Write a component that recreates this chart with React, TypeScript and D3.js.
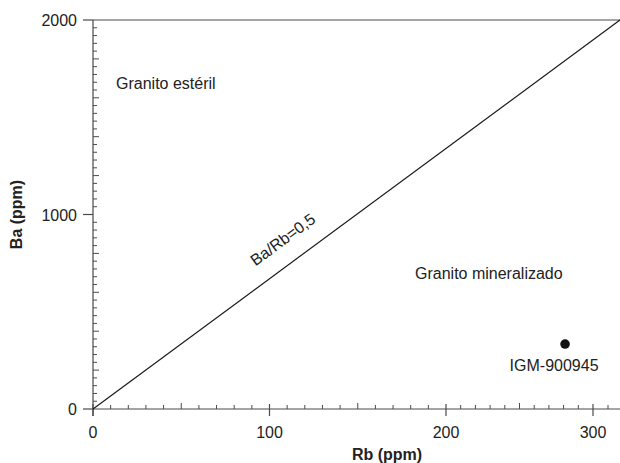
import React, { useEffect, useRef } from "react";
import * as d3 from "d3";

// axis values
const xTickLabels = [0, 100, 200, 300];
const yTickLabels = [0, 1000, 2000];
const xMinorStep = 10;
const yMinorStep = 40;

// diagonal reference line (start / end, in data units)
const lineRb = [0, 318];
const lineBa = [0, 2000];

// the one sample
const sampleNames = ["IGM-900945"];
const sampleRb = [281];
const sampleBa = [334];

const fieldLabels = ["Granito estéril", "Granito mineralizado"];

const App = () => {
  const ref = useRef<SVGSVGElement | null>(null);

  useEffect(() => {
    draw();
  }, []);

  const draw = () => {
    const W = 620;
    const svg = d3.select(ref.current);
    svg.selectAll("*").remove();

    const font = "'Liberation Sans', Arial, sans-serif";
    const axisColor = "#4a4a4a";
    const textColor = "#222";

    // the printed x axis is not quite evenly spaced, so follow it piecewise
    const x = d3
      .scaleLinear()
      .domain([0, 100, 200, 300, 318])
      .range([93, 269.5, 446, 593, 620]);
    const y = d3.scaleLinear().domain([0, 2000]).range([409, 20]);

    const g = svg.append("g");

    // minor ticks (inside)
    const xMinor = d3.range(xMinorStep, 318, xMinorStep).filter((d) => d % 100 !== 0);
    g.selectAll(".xminor")
      .data(xMinor)
      .join("line")
      .attr("x1", (d) => x(d))
      .attr("x2", (d) => x(d))
      .attr("y1", y(0))
      .attr("y2", (d) => y(0) - (d % 50 === 0 ? 6 : 4))
      .attr("stroke", axisColor)
      .attr("stroke-width", 1);

    const yMinor = d3.range(yMinorStep, 2000, yMinorStep).filter((d) => d % 1000 !== 0);
    g.selectAll(".yminor")
      .data(yMinor)
      .join("line")
      .attr("x1", x(0))
      .attr("x2", (d) => x(0) + (d % 200 === 0 ? 6 : 4))
      .attr("y1", (d) => y(d))
      .attr("y2", (d) => y(d))
      .attr("stroke", axisColor)
      .attr("stroke-width", 1);

    // major ticks
    g.selectAll(".xmajor")
      .data(xTickLabels)
      .join("line")
      .attr("x1", (d) => x(d))
      .attr("x2", (d) => x(d))
      .attr("y1", y(0) - 5)
      .attr("y2", y(0) + 7)
      .attr("stroke", axisColor)
      .attr("stroke-width", 1.2);

    g.selectAll(".ymajor")
      .data(yTickLabels)
      .join("line")
      .attr("x1", x(0) - 10)
      .attr("x2", x(0))
      .attr("y1", (d) => y(d))
      .attr("y2", (d) => y(d))
      .attr("stroke", axisColor)
      .attr("stroke-width", 1.2);

    // axis lines + top frame
    g.append("line")
      .attr("x1", x(0))
      .attr("x2", W)
      .attr("y1", y(0))
      .attr("y2", y(0))
      .attr("stroke", axisColor)
      .attr("stroke-width", 1.2);
    g.append("line")
      .attr("x1", x(0))
      .attr("x2", W)
      .attr("y1", y(2000))
      .attr("y2", y(2000))
      .attr("stroke", axisColor)
      .attr("stroke-width", 1.2);
    g.append("line")
      .attr("x1", x(0))
      .attr("x2", x(0))
      .attr("y1", y(2000))
      .attr("y2", y(0) + 7)
      .attr("stroke", axisColor)
      .attr("stroke-width", 1.2);

    // tick labels
    g.selectAll(".xlab")
      .data(xTickLabels)
      .join("text")
      .attr("x", (d) => x(d))
      .attr("y", 438)
      .attr("text-anchor", "middle")
      .style("font-family", font)
      .style("font-size", "16px")
      .attr("fill", textColor)
      .text((d) => d);

    g.selectAll(".ylab")
      .data(yTickLabels)
      .join("text")
      .attr("x", 77)
      .attr("y", (d) => y(d) + 6)
      .attr("text-anchor", "end")
      .style("font-family", font)
      .style("font-size", "16px")
      .attr("fill", textColor)
      .text((d) => d);

    // axis titles
    g.append("text")
      .attr("x", 387)
      .attr("y", 460)
      .attr("text-anchor", "middle")
      .style("font-family", font)
      .style("font-size", "16px")
      .style("font-weight", "bold")
      .attr("fill", textColor)
      .text("Rb (ppm)");

    g.append("text")
      .attr("transform", `translate(22,${y(1000)}) rotate(-90)`)
      .attr("text-anchor", "middle")
      .style("font-family", font)
      .style("font-size", "16px")
      .style("font-weight", "bold")
      .attr("fill", textColor)
      .text("Ba (ppm)");

    // Ba/Rb line
    g.append("line")
      .attr("x1", x(lineRb[0]))
      .attr("y1", y(lineBa[0]))
      .attr("x2", x(lineRb[1]))
      .attr("y2", y(lineBa[1]))
      .attr("stroke", "#1a1a1a")
      .attr("stroke-width", 1.2);

    const angle =
      (Math.atan2(y(lineBa[1]) - y(lineBa[0]), x(lineRb[1]) - x(lineRb[0])) * 180) / Math.PI;
    g.append("text")
      .attr("transform", `translate(286,244) rotate(${angle})`)
      .attr("text-anchor", "middle")
      .style("font-family", font)
      .style("font-size", "16px")
      .attr("fill", textColor)
      .text("Ba/Rb=0,5");

    // field labels
    g.append("text")
      .attr("x", 116)
      .attr("y", 89)
      .style("font-family", font)
      .style("font-size", "16px")
      .attr("fill", textColor)
      .text(fieldLabels[0]);
    g.append("text")
      .attr("x", 415)
      .attr("y", 279)
      .style("font-family", font)
      .style("font-size", "16px")
      .attr("fill", textColor)
      .text(fieldLabels[1]);

    // sample point
    g.selectAll(".pt")
      .data(sampleNames)
      .join("circle")
      .attr("cx", (d, i) => x(sampleRb[i]))
      .attr("cy", (d, i) => y(sampleBa[i]))
      .attr("r", 4.8)
      .attr("fill", "#111");

    g.selectAll(".ptlab")
      .data(sampleNames)
      .join("text")
      .attr("x", (d, i) => x(sampleRb[i]) - 11)
      .attr("y", (d, i) => y(sampleBa[i]) + 27)
      .attr("text-anchor", "middle")
      .style("font-family", font)
      .style("font-size", "16px")
      .attr("fill", textColor)
      .text((d) => d);
  };

  return (
    <svg
      ref={ref}
      width={620}
      height={463}
      style={{ position: "absolute", left: 0, top: 0, background: "#fff" }}
    />
  );
};

export default App;
